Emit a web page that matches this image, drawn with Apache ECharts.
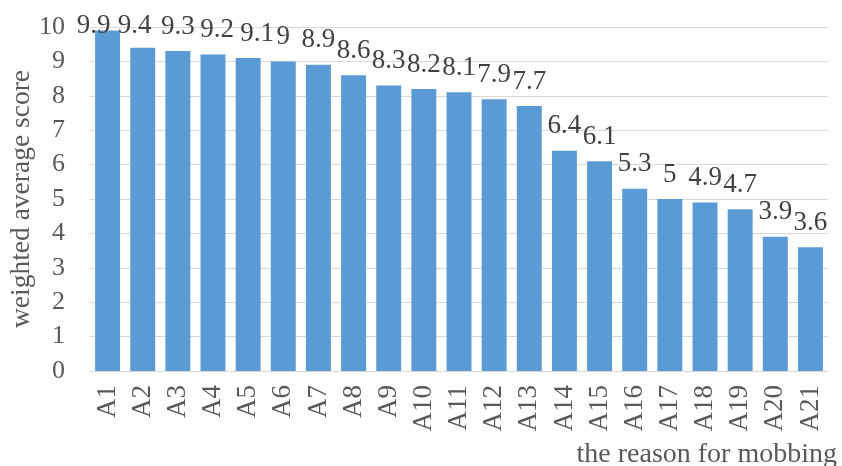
<!DOCTYPE html>
<html>
<head>
<meta charset="utf-8">
<script src="https://cdn.jsdelivr.net/npm/echarts@6/dist/echarts.min.js"></script>
<style>html,body{margin:0;padding:0;background:#fff}#c{width:842px;height:466px}</style>
</head>
<body>
<div id="c"></div>
<script>
var categories = ["A1","A2","A3","A4","A5","A6","A7","A8","A9","A10","A11","A12","A13","A14","A15","A16","A17","A18","A19","A20","A21"];
var values = [9.9,9.4,9.3,9.2,9.1,9,8.9,8.6,8.3,8.2,8.1,7.9,7.7,6.4,6.1,5.3,5,4.9,4.7,3.9,3.6];
var yTicks = [0,1,2,3,4,5,6,7,8,9,10];
var yName = "weighted average score";
var xName = "the reason for mobbing";

var FONT = '"Liberation Serif", "Times New Roman", serif';
var labelShiftX = {0:-14, 1:-8, 3:4, 4:9};
var chart = echarts.init(document.getElementById('c'), null, {renderer:'canvas'});
chart.setOption({
  animation:false,
  backgroundColor:'#fff',
  title:{
    text:xName, right:0, top:436,
    textStyle:{fontFamily:FONT, fontSize:28, fontWeight:'normal', color:'#595959'}
  },
  grid:{left:90, right:14, top:27, bottom:95, containLabel:false, outerBoundsMode:'none'},
  xAxis:{
    type:'category', data:categories,
    axisLine:{show:true, lineStyle:{color:'#D9D9D9', width:1}},
    axisTick:{show:false},
    axisLabel:{rotate:90, fontFamily:FONT, fontSize:27, color:'#595959', margin:14, interval:0}
  },
  yAxis:{
    type:'value', min:yTicks[0], max:yTicks[yTicks.length-1], interval:1,
    name:yName, nameLocation:'middle', nameGap:54, nameMoveOverlap:false,
    nameTextStyle:{fontFamily:FONT, fontSize:27.5, color:'#595959'},
    axisLine:{show:false}, axisTick:{show:false},
    splitLine:{lineStyle:{color:'#D9D9D9', width:1}},
    axisLabel:{fontFamily:FONT, fontSize:26, color:'#595959', margin:25}
  },
  series:[{
    type:'bar', data:values, barCategoryGap:'29%',
    itemStyle:{color:'#5B9BD5'},
    label:{show:true, position:'top', distance:11, fontFamily:FONT, fontSize:27, color:'#404040'},
    labelLayout:function(p){
      var r = p.labelRect;
      var out = {};
      var minY = 12;
      if (r.y < minY) out.dy = minY - r.y;
      if (labelShiftX[p.dataIndex] != null) out.dx = labelShiftX[p.dataIndex];
      return out;
    }
  }]
});
</script>
</body>
</html>
